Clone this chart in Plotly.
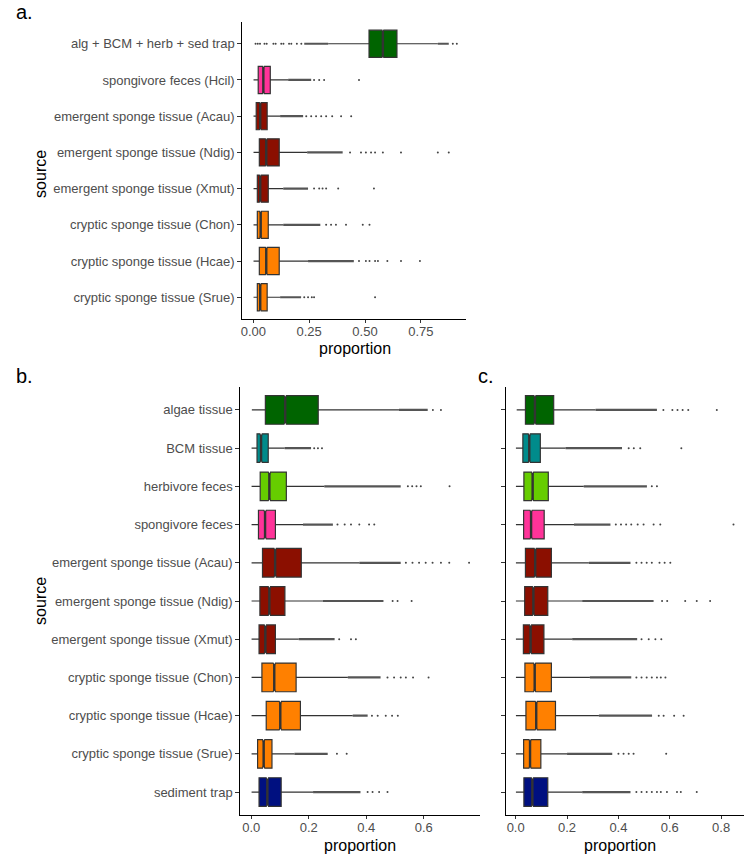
import plotly.graph_objects as go

W, H = 749, 861

# ---------------- data ----------------
cats_a = ["alg + BCM + herb + sed trap", "spongivore feces (Hcil)",
          "emergent sponge tissue (Acau)", "emergent sponge tissue (Ndig)",
          "emergent sponge tissue (Xmut)", "cryptic sponge tissue (Chon)",
          "cryptic sponge tissue (Hcae)", "cryptic sponge tissue (Srue)"]
q1_a = [0.518, 0.022, 0.013, 0.027, 0.018, 0.018, 0.027, 0.018]
med_a = [0.580, 0.045, 0.031, 0.058, 0.031, 0.033, 0.058, 0.031]
q3_a = [0.643, 0.076, 0.062, 0.116, 0.067, 0.067, 0.116, 0.062]
lo_a = [0.335, 0.001, 0.001, 0.001, 0.001, 0.001, 0.001, 0.001]
hi_a = [0.826, 0.156, 0.120, 0.241, 0.134, 0.134, 0.245, 0.120]
dense_a = [[(0.228, 0.335), (0.826, 0.875)], [(0.156, 0.259)], [(0.120, 0.223)],
           [(0.241, 0.400)], [(0.134, 0.245)], [(0.134, 0.300)], [(0.245, 0.450)],
           [(0.120, 0.214)]]
out_a = [[0.01, 0.02, 0.03, 0.05, 0.06, 0.09, 0.10, 0.125, 0.135, 0.16, 0.17, 0.195, 0.215, 0.893, 0.911],
         [0.272, 0.295, 0.317, 0.473],
         [0.237, 0.259, 0.281, 0.304, 0.326, 0.353, 0.393, 0.438],
         [0.433, 0.482, 0.504, 0.527, 0.545, 0.580, 0.661, 0.826, 0.875],
         [0.272, 0.295, 0.310, 0.326, 0.380, 0.540],
         [0.326, 0.348, 0.370, 0.415, 0.490, 0.520],
         [0.473, 0.504, 0.520, 0.545, 0.558, 0.600, 0.661, 0.746],
         [0.228, 0.245, 0.262, 0.272, 0.545]]

cats_bc = ["algae tissue", "BCM tissue", "herbivore feces", "spongivore feces",
           "emergent sponge tissue (Acau)", "emergent sponge tissue (Ndig)",
           "emergent sponge tissue (Xmut)", "cryptic sponge tissue (Chon)",
           "cryptic sponge tissue (Hcae)", "cryptic sponge tissue (Srue)", "sediment trap"]

q1_b = [0.049, 0.020, 0.031, 0.025, 0.039, 0.030, 0.027, 0.037, 0.052, 0.022, 0.027]
med_b = [0.118, 0.034, 0.063, 0.048, 0.083, 0.063, 0.049, 0.080, 0.101, 0.043, 0.056]
q3_b = [0.233, 0.059, 0.122, 0.084, 0.174, 0.117, 0.084, 0.156, 0.171, 0.072, 0.104]
lo_b = [0.002, 0.001, 0.001, 0.001, 0.001, 0.001, 0.001, 0.001, 0.001, 0.001, 0.001]
hi_b = [0.514, 0.116, 0.254, 0.180, 0.376, 0.249, 0.165, 0.336, 0.353, 0.150, 0.215]
dense_b = [[(0.514, 0.614)], [(0.116, 0.208)], [(0.254, 0.520)], [(0.180, 0.284)],
           [(0.376, 0.520)], [(0.249, 0.460)], [(0.165, 0.290)], [(0.336, 0.450)],
           [(0.353, 0.405)], [(0.150, 0.266)], [(0.215, 0.380)]]
out_b = [[0.632, 0.660],
         [0.219, 0.232, 0.246],
         [0.545, 0.560, 0.575, 0.590, 0.690],
         [0.300, 0.325, 0.347, 0.376, 0.410, 0.428],
         [0.538, 0.561, 0.584, 0.607, 0.631, 0.660, 0.689, 0.758],
         [0.492, 0.509, 0.558],
         [0.306, 0.347, 0.364],
         [0.474, 0.497, 0.520, 0.538, 0.563, 0.617],
         [0.420, 0.440, 0.468, 0.490, 0.510],
         [0.298, 0.332],
         [0.405, 0.422, 0.445, 0.474]]

q1_c = [0.038, 0.028, 0.032, 0.031, 0.038, 0.035, 0.030, 0.036, 0.040, 0.031, 0.032]
med_c = [0.075, 0.053, 0.066, 0.060, 0.076, 0.069, 0.058, 0.074, 0.080, 0.056, 0.065]
q3_c = [0.148, 0.096, 0.127, 0.111, 0.139, 0.125, 0.110, 0.139, 0.155, 0.098, 0.125]
lo_c = [0.004, 0.001, 0.001, 0.001, 0.001, 0.001, 0.001, 0.001, 0.001, 0.001, 0.001]
hi_c = [0.311, 0.194, 0.265, 0.227, 0.285, 0.259, 0.220, 0.289, 0.324, 0.200, 0.259]
dense_c = [[(0.311, 0.550)], [(0.194, 0.414)], [(0.265, 0.511)], [(0.227, 0.369)],
           [(0.285, 0.447)], [(0.259, 0.537)], [(0.220, 0.473)], [(0.289, 0.450)],
           [(0.324, 0.531)], [(0.200, 0.376)], [(0.259, 0.447)]]
out_c = [[0.575, 0.610, 0.630, 0.650, 0.672, 0.783],
         [0.440, 0.460, 0.485, 0.645],
         [0.530, 0.550],
         [0.390, 0.410, 0.430, 0.450, 0.475, 0.498, 0.537, 0.563, 0.848],
         [0.470, 0.490, 0.510, 0.530, 0.560, 0.580, 0.602],
         [0.570, 0.590, 0.660, 0.705, 0.757],
         [0.490, 0.518, 0.544, 0.567],
         [0.470, 0.490, 0.510, 0.530, 0.550, 0.565, 0.583],
         [0.557, 0.576, 0.617, 0.654],
         [0.400, 0.420, 0.440, 0.459, 0.586],
         [0.470, 0.490, 0.510, 0.530, 0.550, 0.565, 0.589, 0.628, 0.643, 0.705]]

DKGREEN, PINK, DKRED, ORANGE = "#006400", "#FF3399", "#8B0F00", "#FF8000"
TEAL, LIME, NAVY = "#008B8B", "#66CD00", "#001080"
colors_a = [DKGREEN, PINK, DKRED, DKRED, DKRED, ORANGE, ORANGE, ORANGE]
colors_bc = [DKGREEN, TEAL, LIME, PINK, DKRED, DKRED, DKRED, ORANGE, ORANGE, ORANGE, NAVY]

xticks_a = [0.0, 0.25, 0.5, 0.75]
xticks_a_txt = ["0.00", "0.25", "0.50", "0.75"]
xticks_b = [0.0, 0.2, 0.4, 0.6]
xticks_b_txt = ["0.0", "0.2", "0.4", "0.6"]
xticks_c = [0.0, 0.2, 0.4, 0.6, 0.8]
xticks_c_txt = ["0.0", "0.2", "0.4", "0.6", "0.8"]

# ---------------- figure ----------------
BOXW = 0.75
LINE = "#333333"
fig = go.Figure()


def add_panel(cats, q1, med, q3, lo, hi, dense, outs, cols, xa, ya):
    n = len(cats)
    # dense outlier bands
    dx, dy = [], []
    for i, segs in enumerate(dense):
        for a, b in segs:
            dx += [a, b, None]
            dy += [i, i, None]
    fig.add_trace(go.Scatter(x=dx, y=dy, mode="lines", xaxis=xa, yaxis=ya,
                             line=dict(color="rgba(55,55,55,0.85)", width=2.2),
                             showlegend=False, hoverinfo="skip"))
    ox, oy = [], []
    for i, vals in enumerate(outs):
        ox += vals
        oy += [i] * len(vals)
    fig.add_trace(go.Scatter(x=ox, y=oy, mode="markers", xaxis=xa, yaxis=ya,
                             marker=dict(color="#444444", size=2, line=dict(width=0)),
                             showlegend=False, hoverinfo="skip"))
    for i in range(n):
        fig.add_trace(go.Box(
            y=[i], q1=[q1[i]], median=[med[i]], q3=[q3[i]],
            lowerfence=[lo[i]], upperfence=[hi[i]],
            orientation="h", width=BOXW, whiskerwidth=0,
            notched=True, notchspan=[0.004], notchwidth=0.1,
            fillcolor=cols[i], line=dict(color=LINE, width=1.2),
            boxpoints=False, xaxis=xa, yaxis=ya, showlegend=False,
            name=cats[i]))
    mx, my = [], []
    for i in range(n):
        mx += [med[i], med[i], None]
        my += [i - BOXW / 2 + 0.03, i + BOXW / 2 - 0.03, None]
    fig.add_trace(go.Scatter(x=mx, y=my, mode="lines", xaxis=xa, yaxis=ya,
                             line=dict(color=LINE, width=2.4),
                             showlegend=False, hoverinfo="skip"))


add_panel(cats_a, q1_a, med_a, q3_a, lo_a, hi_a, dense_a, out_a, colors_a, "x", "y")
add_panel(cats_bc, q1_b, med_b, q3_b, lo_b, hi_b, dense_b, out_b, colors_bc, "x2", "y2")
add_panel(cats_bc, q1_c, med_c, q3_c, lo_c, hi_c, dense_c, out_c, colors_bc, "x3", "y3")


def px_x(p):
    return p / W


def px_y(p):
    return 1 - p / H


FONT = "Liberation Sans, Arial, sans-serif"
tickfont = dict(family=FONT, size=13, color="#4D4D4D")
common_x = dict(showgrid=False, zeroline=False, showline=True, linecolor="black", linewidth=1.2,
                ticks="outside", ticklen=3, tickcolor="#333333", tickwidth=1, tickfont=tickfont,
                ticklabelstandoff=-3)
common_y = dict(showgrid=False, zeroline=False, showline=True, linecolor="black", linewidth=1.2,
                ticks="outside", ticklen=4, tickcolor="#333333", tickwidth=1, tickfont=tickfont)

na, nb = len(cats_a), len(cats_bc)
fig.update_layout(
    width=W, height=H, margin=dict(l=0, r=0, t=0, b=0),
    paper_bgcolor="white", plot_bgcolor="white", showlegend=False,
    xaxis=dict(domain=[px_x(241), px_x(465)], anchor="y", range=[-0.049, 0.951],
               tickvals=xticks_a, ticktext=xticks_a_txt, **common_x),
    yaxis=dict(domain=[px_y(319), px_y(22)], anchor="x", range=[na - 1 + 0.6, -0.6],
               tickvals=list(range(na)), ticktext=cats_a, **common_y),
    xaxis2=dict(domain=[px_x(239), px_x(479)], anchor="y2", range=[-0.038, 0.795],
                tickvals=xticks_b, ticktext=xticks_b_txt, **common_x),
    yaxis2=dict(domain=[px_y(815), px_y(387)], anchor="x2", range=[nb - 1 + 0.6, -0.6],
                tickvals=list(range(nb)), ticktext=cats_bc, **common_y),
    xaxis3=dict(domain=[px_x(505), px_x(744)], anchor="y3", range=[-0.039, 0.889],
                tickvals=xticks_c, ticktext=xticks_c_txt, **common_x),
    yaxis3=dict(domain=[px_y(815), px_y(387)], anchor="x3", range=[nb - 1 + 0.6, -0.6],
                tickvals=list(range(nb)), ticktext=cats_bc, showticklabels=False, **common_y),
)

annos = [
    dict(text="a.", x=px_x(12), y=px_y(12), xanchor="left", yanchor="middle", size=20),
    dict(text="b.", x=px_x(12), y=px_y(376), xanchor="left", yanchor="middle", size=20),
    dict(text="c.", x=px_x(475), y=px_y(376), xanchor="left", yanchor="middle", size=20),
    dict(text="source", x=px_x(38), y=px_y(174), xanchor="center", yanchor="middle", size=16, angle=-90),
    dict(text="source", x=px_x(38), y=px_y(601), xanchor="center", yanchor="middle", size=16, angle=-90),
    dict(text="proportion", x=px_x(354), y=px_y(348), xanchor="center", yanchor="middle", size=16),
    dict(text="proportion", x=px_x(359), y=px_y(845), xanchor="center", yanchor="middle", size=16),
    dict(text="proportion", x=px_x(620), y=px_y(845), xanchor="center", yanchor="middle", size=16),
]
for a in annos:
    fig.add_annotation(text=a["text"], x=a["x"], y=a["y"], xref="paper", yref="paper",
                       xanchor=a["xanchor"], yanchor=a["yanchor"], showarrow=False,
                       textangle=a.get("angle", 0),
                       font=dict(family=FONT, size=a["size"], color="black"))

fig.write_html("out.html", config={"displayModeBar": False},
               post_script="document.body.style.margin='0';")
